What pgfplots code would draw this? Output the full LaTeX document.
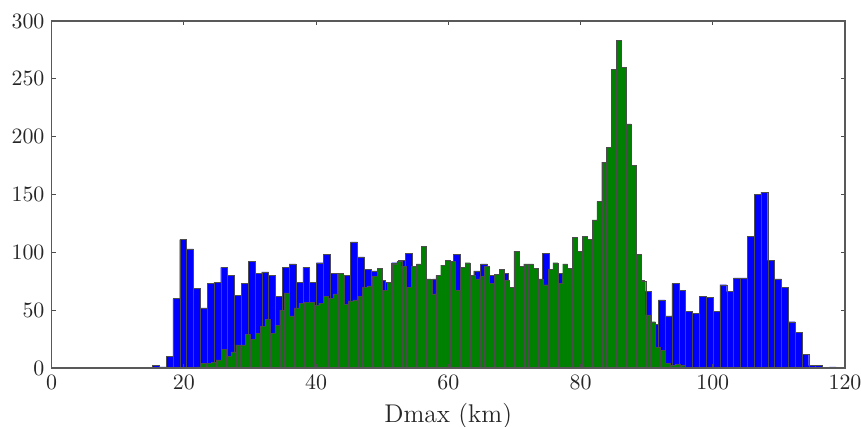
\documentclass[border=0pt]{standalone}
\usepackage{pgfplots}
\pgfplotsset{compat=1.18}
\definecolor{mplblue}{HTML}{0000FF}
\definecolor{mplgreen}{HTML}{008000}

\begin{document}
\begin{tikzpicture}
\begin{axis}[
  width=396.75pt, height=173.5pt, scale only axis,
  xmin=0, xmax=120, ymin=0, ymax=300,
  xtick={0,20,40,60,80,100,120},
  ytick={0,50,100,150,200,250,300},
  tick align=inside,
  major tick length=2.2pt,
  tick style={black!70, line width=0.5pt},
  axis line style={black!65, line width=0.7pt},
  ticklabel style={font=\fontsize{10.5}{12}\selectfont, black!85},
  xlabel={Dmax (km)},
  xlabel style={font=\fontsize{12.8}{14}\selectfont, black!85},
  axis on top,
]
% blue histogram (100 bins, left edges; last point closes the interval)
\addplot[ybar interval, fill=mplblue, draw=black!70, line width=0.2pt] coordinates {
(15.25,2) (16.28,1) (17.32,10) (18.35,60) (19.39,111) (20.42,103) (21.45,69) (22.49,52) (23.52,73) (24.56,74)
(25.59,87) (26.62,80) (27.66,63) (28.69,73) (29.73,92) (30.76,82) (31.79,83) (32.83,80) (33.86,62) (34.90,87)
(35.93,90) (36.96,74) (38.00,87) (39.03,74) (40.07,91) (41.10,98) (42.13,82) (43.17,80) (44.20,80) (45.24,109)
(46.27,96) (47.30,85) (48.34,84) (49.37,76) (50.41,74) (51.44,91) (52.47,93) (53.51,99) (54.54,80) (55.58,85)
(56.61,62) (57.64,77) (58.68,76) (59.71,85) (60.75,98) (61.78,82) (62.81,76) (63.85,84) (64.88,90) (65.92,80)
(66.95,70) (67.98,82) (69.02,68) (70.05,80) (71.09,80) (72.12,75) (73.15,72) (74.19,99) (75.22,78) (76.26,82)
(77.29,75) (78.32,80) (79.36,90) (80.39,95) (81.43,100) (82.46,110) (83.49,110) (84.53,105) (85.56,100) (86.60,95)
(87.63,85) (88.66,76) (89.70,66) (90.73,38) (91.77,59) (92.80,45) (93.83,73) (94.87,67) (95.90,49) (96.94,47)
(97.97,62) (99.00,61) (100.04,49) (101.07,72) (102.11,66) (103.14,78) (104.17,78) (105.21,114) (106.24,150) (107.28,152)
(108.31,93) (109.34,77) (110.38,70) (111.41,40) (112.45,31) (113.48,12) (114.51,2) (115.55,2) (116.58,0) (117.62,1)
(118.65,0)
};
% green histogram
\addplot[ybar interval, fill=mplgreen, draw=black!70, line width=0.2pt] coordinates {
(21.96,1) (22.70,4) (23.44,4) (24.17,5) (24.91,7) (25.65,16) (26.39,10) (27.13,14) (27.86,20) (28.60,20)
(29.34,29) (30.08,25) (30.82,30) (31.55,36) (32.29,42) (33.03,30) (33.77,37) (34.51,50) (35.24,65) (35.98,45)
(36.72,52) (37.46,56) (38.20,57) (38.93,57) (39.67,54) (40.41,56) (41.15,62) (41.89,60) (42.62,64) (43.36,82)
(44.10,55) (44.84,58) (45.58,59) (46.31,62) (47.05,70) (47.79,71) (48.53,79) (49.27,86) (50.00,67) (50.74,74)
(51.48,90) (52.22,92) (52.96,88) (53.69,70) (54.43,88) (55.17,90) (55.91,105) (56.65,77) (57.38,64) (58.12,80)
(58.86,89) (59.60,93) (60.34,92) (61.07,67) (61.81,87) (62.55,91) (63.29,80) (64.03,77) (64.76,79) (65.50,88)
(66.24,73) (66.98,81) (67.72,85) (68.45,76) (69.19,70) (69.93,101) (70.67,88) (71.41,90) (72.14,90) (72.88,86)
(73.62,77) (74.36,72) (75.10,85) (75.83,91) (76.57,73) (77.31,90) (78.05,86) (78.79,113) (79.52,101) (80.26,114)
(81.00,111) (81.74,128) (82.48,144) (83.21,178) (83.95,191) (84.69,258) (85.43,283) (86.17,260) (86.90,211) (87.64,175)
(88.38,98) (89.12,75) (89.86,46) (90.59,40) (91.33,18) (92.07,15) (92.81,4) (93.55,2) (94.28,3) (95.02,2)
(95.76,0)
};
\coordinate (bl) at (rel axis cs:0,0);
\coordinate (tr) at (rel axis cs:1,1);
\end{axis}
\pgfresetboundingbox
\path[use as bounding box] ([shift={(-25.75pt,-29.5pt)}]bl) rectangle ([shift={(8pt,10.5pt)}]tr);
\end{tikzpicture}
\end{document}
